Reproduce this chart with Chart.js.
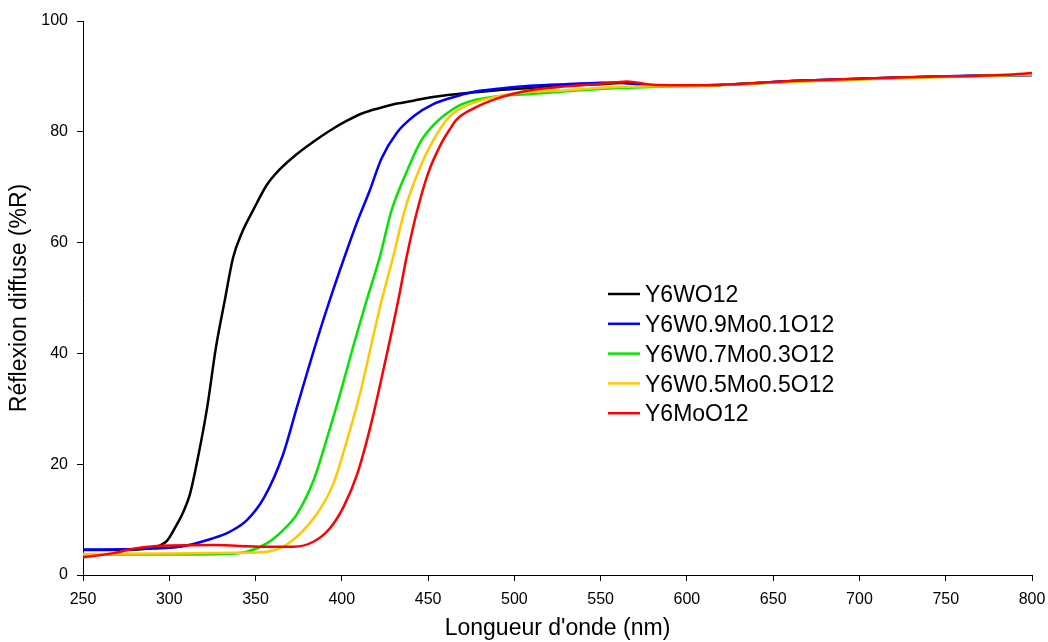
<!DOCTYPE html>
<html>
<head>
<meta charset="utf-8">
<script src="https://cdn.jsdelivr.net/npm/chart.js@4.4.1/dist/chart.umd.min.js"></script>
<style>
  html, body { margin: 0; padding: 0; background: #fff; }
  #wrap { width: 1048px; height: 642px; position: relative; }
</style>
</head>
<body>
<div id="wrap"><canvas id="c" width="1048" height="642"></canvas></div>
<script>
// ---- Data ----
const seriesLabels = ["Y6WO12", "Y6W0.9Mo0.1O12", "Y6W0.7Mo0.3O12", "Y6W0.5Mo0.5O12", "Y6MoO12"];
const seriesColors = ["#000000", "#0000FF", "#00E600", "#FFC800", "#FF0000"];

const blackNm = [250,270,285,293,299,304,308,312,317,322,327,332,337,342,348.7,356.5,364,374,383.5,393,403,412.4,422,432,441.4,451,470,490,509,530,550,562,580,608,665,723,785,800];
const blackR  = [4.5,4.5,4.7,5.1,6.3,8.9,11.3,14.6,21.8,30.3,41.0,49.3,57.3,61.7,65.9,70.4,73.2,76.0,78.2,80.2,82.0,83.4,84.3,85.1,85.6,86.2,86.9,87.5,87.9,88.3,88.6,88.8,88.4,88.4,89.2,89.8,90.2,90.3];

const blueNm = [250,280,306,325,335,345,355,366,374,385.5,393,401,408.6,416.3,423,431.8,442,453,464,476,492,509,530,559,580,608,665,723,785,800];
const blueR  = [4.6,4.7,5.1,6.6,7.8,9.9,14.0,21.8,30.3,42.3,49.6,56.9,63.5,69.5,75.2,79.8,82.9,85.0,86.2,87.2,87.8,88.3,88.6,88.9,88.4,88.4,89.2,89.8,90.2,90.2];

const greenNm = [250,300,330,345,356.5,366,374,383.5,391.5,399,407,414.4,422.1,428.5,437.6,446,455,463,470.4,490,509,530,559,580,608,665,723,785,800];
const greenR  = [3.7,3.7,3.8,4.2,5.7,8.1,11.0,17.0,24.8,32.7,41.7,49.6,57.5,65.5,72.8,78.4,81.8,83.8,85.1,86.4,86.8,87.3,87.9,88.1,88.3,89.1,89.7,90.2,90.3];

const yellowNm = [250,300,340,356.5,366,376,385.5,395,403,411,418.5,423.1,429.8,436.5,444.3,452,461.7,470.4,480,499.4,530,559,580,608,665,723,785,800];
const yellowR  = [3.8,3.9,4.0,4.2,5.1,7.5,11.0,16.4,24.3,33.3,43.5,49.6,57.5,65.9,72.8,77.9,82.5,84.5,85.6,86.9,87.5,88.1,88.2,88.3,89.1,89.7,90.2,90.4];

const redNm = [250,267,277,291,326,355,372,383.5,393,401,409,416.5,424,432.7,437.6,443.3,450,457.8,462.7,466.5,476.2,489.8,509,530,559,565,580,608,665,723,785,800];
const redR  = [3.2,3.9,4.6,5.2,5.4,5.1,5.1,6.0,8.4,12.3,18.3,26.7,36.9,49.6,57.5,65.3,72.5,78.0,80.5,82.2,84.2,86.0,87.5,88.2,88.9,89.1,88.5,88.4,89.2,89.8,90.3,90.6];

const xTicks = [250,300,350,400,450,500,550,600,650,700,750,800];
const yTicks = [0,20,40,60,80,100];

const xTitle = "Longueur d'onde (nm)";
const yTitle = "Réflexion diffuse (%R)";

// ---- Build datasets ----
const seriesNm = [blackNm, blueNm, greenNm, yellowNm, redNm];
const seriesR = [blackR, blueR, greenR, yellowR, redR];
const datasets = seriesLabels.map((lab, i) => ({
  label: lab,
  data: seriesNm[i].map((x, k) => ({ x: x, y: seriesR[i][k] })),
  borderColor: seriesColors[i],
  backgroundColor: seriesColors[i],
  borderWidth: 2.5,
  pointRadius: 0,
  fill: false,
  cubicInterpolationMode: 'monotone',
  order: seriesLabels.length - i
}));

const FONT = "'Liberation Sans', Arial, sans-serif";

// custom in-plot legend
const legendPlugin = {
  id: 'inlineLegend',
  afterDatasetsDraw(chart) {
    const ctx = chart.ctx;
    ctx.save();
    ctx.font = "23px " + FONT;
    ctx.textBaseline = 'alphabetic';
    ctx.textAlign = 'left';
    const y0 = 294, dy = 29.8;
    chart.data.datasets.forEach((ds, i) => {
      const y = y0 + i * dy;
      ctx.strokeStyle = ds.borderColor;
      ctx.lineWidth = 2.5;
      ctx.beginPath();
      ctx.moveTo(608, y);
      ctx.lineTo(640, y);
      ctx.stroke();
      ctx.fillStyle = '#000';
      ctx.fillText(ds.label, 645, y + 8.2);
    });
    ctx.restore();
  }
};

new Chart(document.getElementById('c'), {
  type: 'line',
  data: { datasets },
  plugins: [legendPlugin],
  options: {
    responsive: false,
    animation: false,
    devicePixelRatio: 1,
    layout: { padding: { top: 21, right: 16, bottom: 0, left: 0 } },
    plugins: { legend: { display: false }, tooltip: { enabled: false } },
    scales: {
      x: {
        type: 'linear',
        min: 250, max: 800,
        afterFit(scale) { scale.height = 67; scale.paddingRight = 0; scale.paddingLeft = 0; },
        afterBuildTicks(scale) { scale.ticks = xTicks.map(v => ({ value: v })); },
        ticks: { color: '#000', font: { family: FONT, size: 16 }, padding: 9, maxRotation: 0, autoSkip: false },
        grid: { display: true, drawOnChartArea: false, drawTicks: true, tickLength: 6, color: '#000' },
        border: { display: true, color: '#000', width: 1 },
        title: { display: true, text: xTitle, color: '#000', font: { family: FONT, size: 23 }, padding: { top: 0, bottom: 0 } }
      },
      y: {
        min: 0, max: 100,
        afterFit(scale) { scale.width = 83; scale.paddingTop = 0; scale.paddingBottom = 0; },
        afterBuildTicks(scale) { scale.ticks = yTicks.map(v => ({ value: v })); },
        ticks: { color: '#000', font: { family: FONT, size: 16 }, padding: 9, autoSkip: false },
        grid: { display: true, drawOnChartArea: false, drawTicks: true, tickLength: 6, color: '#000' },
        border: { display: true, color: '#000', width: 1 },
        title: { display: true, text: yTitle, color: '#000', font: { family: FONT, size: 23 }, padding: { top: 6, bottom: 0 } }
      }
    }
  }
});
</script>
</body>
</html>
